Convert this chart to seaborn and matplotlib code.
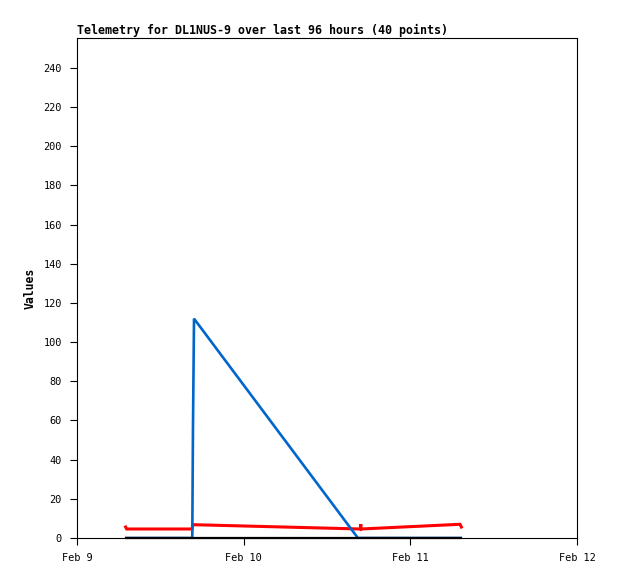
import pandas as pd
import seaborn as sns
import matplotlib
matplotlib.use('Agg')
import matplotlib.pyplot as plt

# hours after Feb 9 00:00 and the telemetry values
red_hours = [6.9, 7.15, 16.55, 16.7, 40.8, 40.86, 40.92, 55.15, 55.45]
red_values = [6.3, 4.6, 4.6, 6.8, 4.6, 7.1, 4.6, 7.0, 4.9]

blue_hours = [6.9, 16.6, 16.7, 16.85, 40.45, 55.45]
blue_values = [0, 0, 56, 112, 0, 0]

black_hours = [6.9, 55.45]
black_values = [0, 0]

x_ticks = ['2024-02-09', '2024-02-10', '2024-02-11', '2024-02-12']
x_labels = ['Feb 9', 'Feb 10', 'Feb 11', 'Feb 12']
y_ticks = list(range(0, 241, 20))

start = pd.Timestamp('2024-02-09')


def frame(hours, values):
    return pd.DataFrame({'time': start + pd.to_timedelta(hours, unit='h'),
                         'value': values})


def telemetry():
    sns.set_style('ticks')
    plt.rcParams['font.family'] = ['DejaVu Sans Mono']
    plt.rcParams['text.color'] = 'black'
    plt.rcParams['axes.labelcolor'] = 'black'

    fig = plt.figure(figsize=(6.18, 5.79), dpi=100)
    ax = fig.add_axes([77 / 618, 1 - 538 / 579, 500 / 618, 500 / 579])

    line_kw = dict(sort=False, estimator=None, ax=ax,
                   solid_joinstyle='miter', solid_capstyle='butt')
    sns.lineplot(frame(red_hours, red_values), x='time', y='value',
                 color='#ff0000', linewidth=2.2, **line_kw)
    sns.lineplot(frame(blue_hours, blue_values), x='time', y='value',
                 color='#0066cc', linewidth=1.9, **line_kw)
    sns.lineplot(frame(black_hours, black_values), x='time', y='value',
                 color='black', linewidth=1.6, clip_on=False, **line_kw)

    ax.set_xlim(pd.Timestamp(x_ticks[0]), pd.Timestamp(x_ticks[-1]))
    ax.set_ylim(0, 255.3)
    ax.set_xticks([pd.Timestamp(t) for t in x_ticks])
    ax.set_xticklabels(x_labels)
    ax.set_yticks(y_ticks)
    ax.tick_params(direction='out', length=5, width=0.8, labelsize=7.4,
                   colors='black', pad=6)
    for s in ax.spines.values():
        s.set_linewidth(0.8)
        s.set_color('black')

    ax.set_xlabel('')
    ax.set_ylabel('Values', fontsize=8.3, fontweight='bold', labelpad=5)
    ax.set_title('Telemetry for DL1NUS-9 over last 96 hours (40 points)',
                 loc='left', fontsize=8.35, fontweight='bold', pad=3,
                 color='black')

    fig.savefig('out.png', dpi=100)


def main():
    telemetry()


if __name__ == '__main__':
    main()
